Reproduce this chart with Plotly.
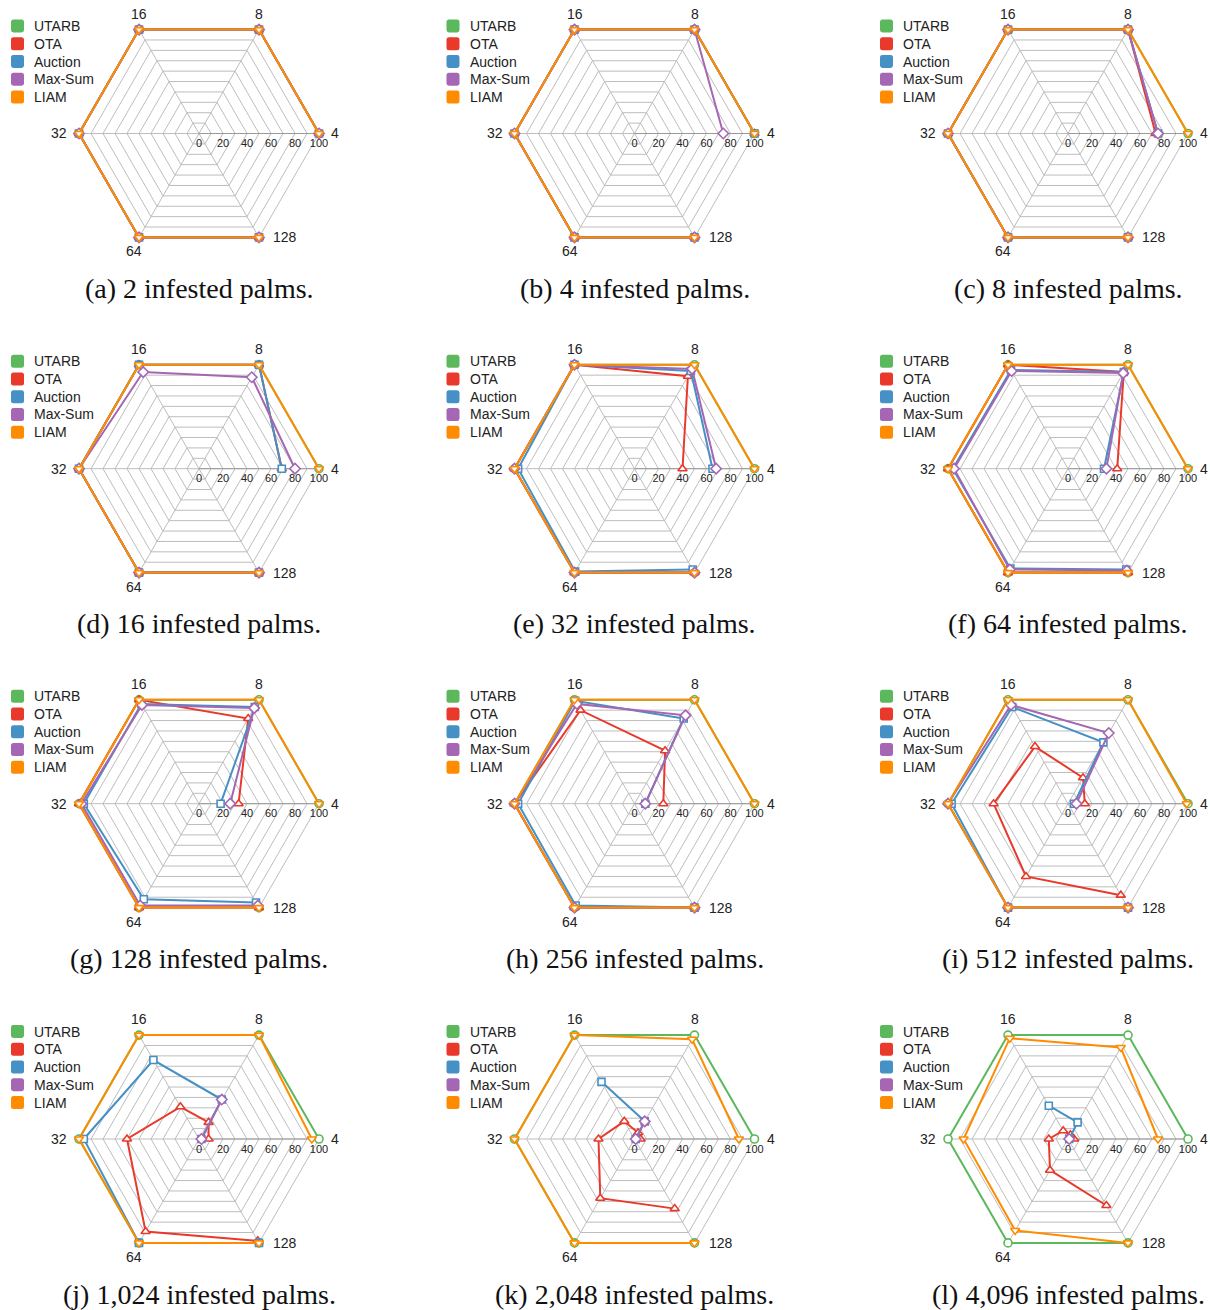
import math
import plotly.graph_objects as go

# Radar axes: number of robots (angular categories)
robots = ["4", "8", "16", "32", "64", "128"]
# Panels: number of infested palms
palms = ["2", "4", "8", "16", "32", "64", "128", "256", "512", "1,024", "2,048", "4,096"]
letters = list("abcdefghijkl")

radial_ticks = [0, 10, 20, 30, 40, 50, 60, 70, 80, 90, 100]
radial_labels = ["0", "", "20", "", "40", "", "60", "", "80", "", "100"]

N = None
FULL = [100, 100, 100, 100, 100, 100]

# Percentage of infested palms treated, per panel (rows) and robot count (columns)
utarb = [FULL] * 12

ota = [
    FULL,
    FULL,
    [73, 100, 100, 100, 100, 100],
    [69, 100, 100, 100, 100, 100],
    [40, 89, 100, 100, 100, 100],
    [41, 93, 100, 100, 100, 100],
    [33, 82, 100, 100, 100, 100],
    [24, 51, 90, 100, 100, 100],
    [14, 25, 55, 62, 70, 88],
    [8, 16, 31, 60, 89, 98],
    [5, 6, 17, 30, 57, 67],
    [5, 4, 8, 16, 30, 64],
]

auction = [
    FULL,
    FULL,
    [75, 100, 100, 100, 100, 100],
    [69, 100, 100, 100, 100, 100],
    [65, 94, 100, 97, 99, 97],
    [30, 93, 95, 96, 96, 97],
    [18, 93, 96, 96, 92, 95],
    [9, 82, 99, 97, 98, 100],
    [5, 59, 93, 97, 100, 100],
    [2, 38, 76, 96, 100, 100],
    [1, 17, 55, N, N, N],
    [1, 16, 32, N, N, N],
]

max_sum = [
    FULL,
    [74, 100, 100, 100, 100, 100],
    [75, 100, 100, 100, 100, 100],
    [80, 88, 93, 100, 100, 100],
    [68, 96, 100, 100, 100, 100],
    [32, 92, 94, 95, 97, 98],
    [26, 92, 95, 98, 98, 98],
    [9, 85, 96, 100, 100, 100],
    [7, 68, 95, 100, 100, 100],
    [2, 38, N, N, N, N],
    [1, 17, N, N, N, N],
    [1, N, N, N, N, N],
]

liam = [
    FULL, FULL, FULL, FULL, FULL, FULL, FULL, FULL,
    [99, 100, 100, 100, 100, 100],
    [94, 100, 100, 100, 100, 100],
    [87, 96, 100, 100, 100, 100],
    [75, 88, 97, 87, 88, 100],
]

series = [
    ("UTARB", utarb, "#5cb85c", "circle"),
    ("OTA", ota, "#e8392b", "triangle-up"),
    ("Auction", auction, "#4590c4", "square"),
    ("Max-Sum", max_sum, "#a566b4", "diamond"),
    ("LIAM", liam, "#ff8c00", "triangle-down"),
]

# Page geometry (pixels)
W, H = 1210, 1310
col_cx = [199, 634.5, 1068]
row_cy = [133.5, 468.7, 803.7, 1139]
R = 120          # pixel radius of the 100 % ring
R_MAX = 102      # radial range end, a little past 100 so edge lines are not clipped

GRID = "#bdbdbd"
TEXT = "#222222"
SANS = "Liberation Sans, Arial, sans-serif"

# Placement of each robot-count label around its hexagon vertex:
# (extra dx, extra dy, xanchor, yanchor)
label_place = [
    (10, 0, "left", "middle"),
    (0, -16, "center", "middle"),
    (0, -16, "center", "middle"),
    (-10, 0, "right", "middle"),
    (-5, 14, "center", "middle"),
    (12, 0, "left", "middle"),
]


def px(x):
    return x / W


def py(y):
    return 1 - y / H


fig = go.Figure()
layout = dict(
    width=W,
    height=H,
    autosize=False,
    margin=dict(l=0, r=0, t=0, b=0),
    paper_bgcolor="white",
    plot_bgcolor="white",
    showlegend=False,
    font=dict(family=SANS, color=TEXT),
)

annotations = []
shapes = []
Rd = R * R_MAX / 100

for k in range(12):
    cx = col_cx[k % 3]
    cy = row_cy[k // 3]
    pname = "polar" if k == 0 else f"polar{k + 1}"

    layout[pname] = dict(
        domain=dict(x=[px(cx - Rd), px(cx + Rd)], y=[py(cy + Rd), py(cy - Rd)]),
        gridshape="linear",
        bgcolor="rgba(0,0,0,0)",
        angularaxis=dict(
            type="category",
            categoryorder="array",
            categoryarray=robots,
            rotation=0,
            direction="counterclockwise",
            gridcolor=GRID,
            gridwidth=1,
            showline=False,
            ticks="",
            showticklabels=False,
            layer="below traces",
        ),
        radialaxis=dict(
            range=[0, R_MAX],
            tickmode="array",
            tickvals=radial_ticks,
            ticktext=radial_labels,
            angle=0,
            tickangle=0,
            side="clockwise",
            showline=True,
            linecolor="#999999",
            linewidth=1,
            gridcolor=GRID,
            gridwidth=1,
            ticks="",
            tickfont=dict(size=11, color=TEXT, family=SANS),
            layer="below traces",
        ),
    )

    for name, values, color, symbol in series:
        fig.add_trace(
            go.Scatterpolar(
                r=values[k],
                theta=robots,
                mode="lines+markers",
                name=name,
                subplot=pname,
                cliponaxis=False,
                line=dict(color=color, width=2),
                marker=dict(
                    symbol=symbol,
                    size=8 if symbol != "square" else 7,
                    color="white",
                    line=dict(color=color, width=1.6),
                ),
                showlegend=False,
            )
        )

    # robot-count labels at the hexagon vertices
    for j, lab in enumerate(robots):
        ang = math.radians(60 * j)
        vx = cx + R * math.cos(ang)
        vy = cy - R * math.sin(ang)
        dx, dy, xa, ya = label_place[j]
        annotations.append(dict(
            x=px(vx + dx), y=py(vy + dy), xref="paper", yref="paper",
            text=lab, showarrow=False, xanchor=xa, yanchor=ya,
            font=dict(size=14, color=TEXT, family=SANS),
        ))

    # per-panel key: rounded colour swatches with series names
    for i, (name, _, color, _) in enumerate(series):
        yc = cy - 107.5 + i * 17.75
        xc = cx - 181.5
        s, r = 6.5, 2.5
        x0, x1, y0, y1 = xc - s, xc + s, yc - s, yc + s
        pts = [
            ("M", x0 + r, y0), ("L", x1 - r, y0), ("Q", x1, y0, x1, y0 + r),
            ("L", x1, y1 - r), ("Q", x1, y1, x1 - r, y1), ("L", x0 + r, y1),
            ("Q", x0, y1, x0, y1 - r), ("L", x0, y0 + r), ("Q", x0, y0, x0 + r, y0),
        ]
        path = ""
        for p in pts:
            coords = p[1:]
            segs = [f"{px(coords[j]):.6f},{py(coords[j + 1]):.6f}"
                    for j in range(0, len(coords), 2)]
            path += p[0] + " " + " ".join(segs) + " "
        shapes.append(dict(type="path", path=path + "Z", xref="paper", yref="paper",
                           fillcolor=color, line=dict(color=color, width=0)))
        annotations.append(dict(
            x=px(cx - 167), y=py(yc), xref="paper", yref="paper",
            text=name, showarrow=False, xanchor="left", yanchor="middle",
            font=dict(size=14, color=TEXT, family=SANS),
        ))

    # panel caption
    annotations.append(dict(
        x=px(cx), y=py(cy + 155), xref="paper", yref="paper",
        text=f"({letters[k]}) {palms[k]} infested palms.",
        showarrow=False, xanchor="center", yanchor="middle",
        font=dict(size=28, color="#111111", family="Liberation Serif, Times New Roman, serif"),
    ))

layout["annotations"] = annotations
layout["shapes"] = shapes
fig.update_layout(**layout)
fig.write_html("out.html")
